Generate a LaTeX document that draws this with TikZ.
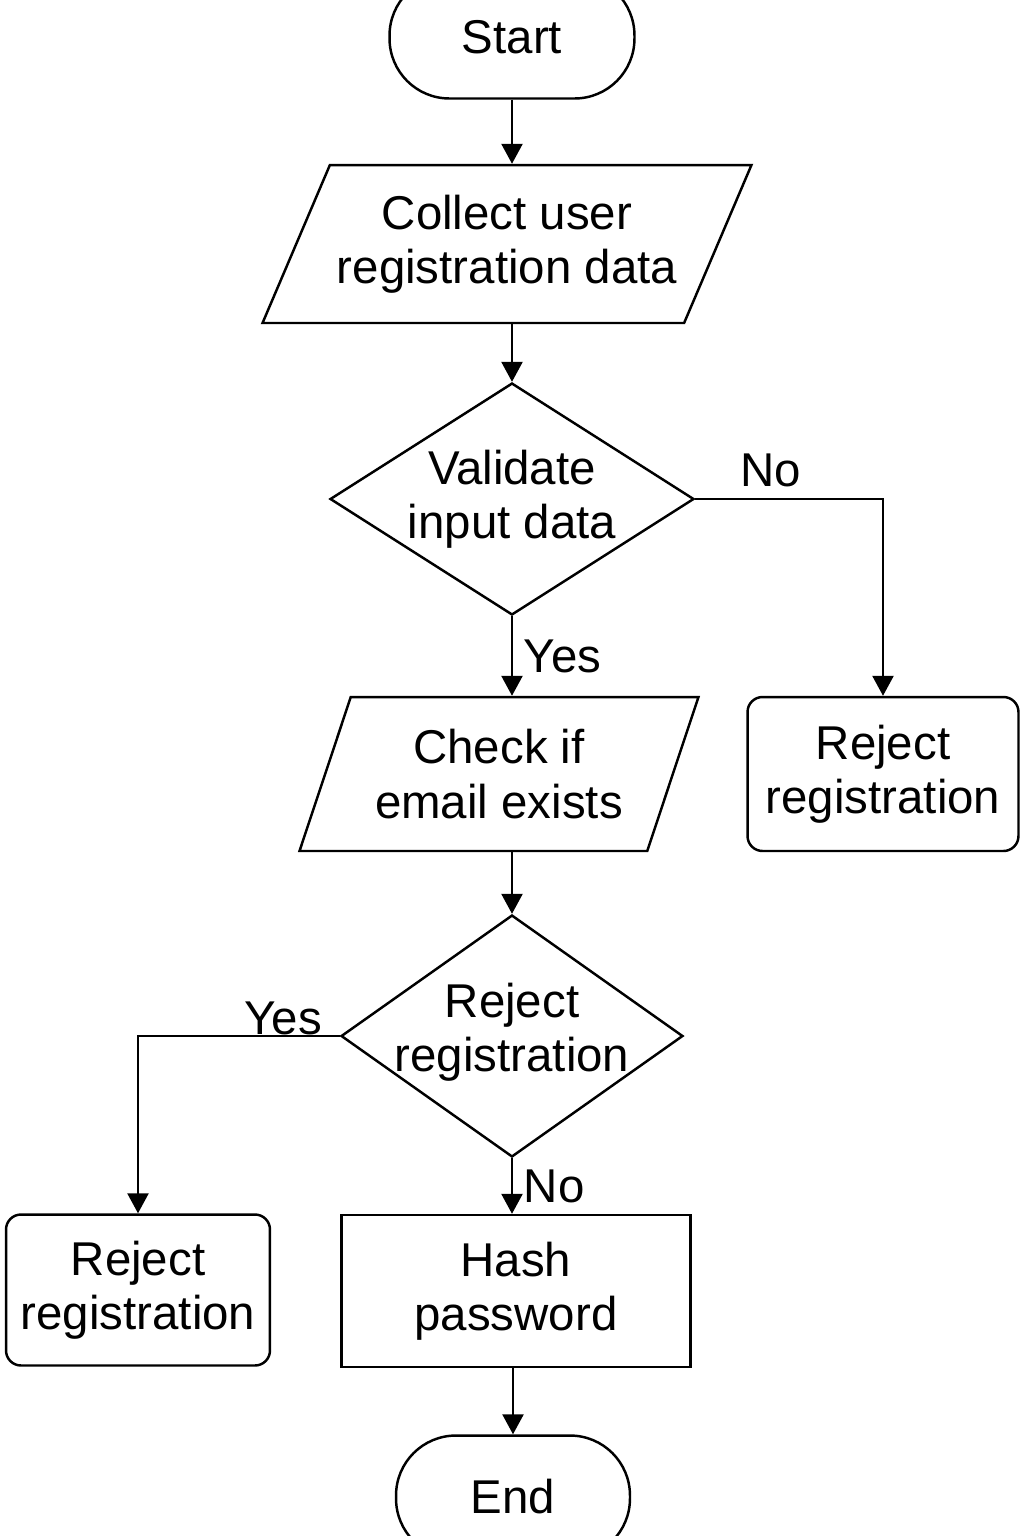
\documentclass[tikz,border=0pt]{standalone}
\usepackage{fontspec}
\setmainfont{Liberation Sans}
\usetikzlibrary{arrows.meta,positioning,shapes.geometric}

\begin{document}
\begin{tikzpicture}[
    x=0.02cm, y=-0.02cm,
    flow/.style={font=\fontsize{27}{31}\selectfont, align=center, line width=1.4pt},
    term/.style={flow, draw, rounded corners=1.2cm, minimum height=2.46cm, inner sep=0pt},
    io/.style={flow, draw, trapezium, trapezium stretches body, inner xsep=4pt, inner ysep=2pt},
    decision/.style={flow, draw, diamond, inner sep=0pt},
    proc/.style={flow, draw, rectangle, inner sep=2pt},
    reject/.style={proc, rounded corners=0.3cm},
    lbl/.style={font=\fontsize{27}{31}\selectfont, inner sep=6pt},
    arr/.style={-{Triangle[length=0.4cm, width=0.42cm]}, line width=1.4pt},
  ]
    \useasboundingbox (0,0) rectangle (1024,1536);
    \fill[white] (0,0) rectangle (1024,1536);
    \clip (0,0) rectangle (1024,1536);

    \node[term, minimum width=4.9cm] (start) at (512,37) {Start};
    \node[io, trapezium left angle=57.5, trapezium right angle=122.5,
          minimum width=9.68cm, minimum height=3.16cm] (in1) at (507,244)
          {Collect user\\registration data};
    \node[decision, minimum width=7.28cm, minimum height=4.64cm,
          label={[flow]center:Validate\\input data}] (dec1) at (512,499) {};
    \node[reject, minimum width=5.42cm, minimum height=3.08cm] (rej1) at (883,774)
          {Reject\\registration};
    \node[io, trapezium left angle=62, trapezium right angle=118,
          minimum width=7.98cm, minimum height=3.08cm] (in2) at (499,774)
          {Check if\\email exists};
    \node[decision, minimum width=6.84cm, minimum height=4.84cm,
          label={[flow, yshift=0.08cm]center:Reject\\registration}] (dec2) at (512,1036) {};
    \node[reject, minimum width=5.28cm, minimum height=3.02cm] (rej2) at (138,1290)
          {Reject\\registration};
    \node[proc, minimum width=6.98cm, minimum height=3.04cm] (hash) at (516,1291)
          {Hash\\password};
    \node[term, minimum width=4.68cm] (end) at (513,1497) {End};

    \draw[arr] (start) -- (start |- in1.north);
    \draw[arr] (in1.south -| dec1) -- (dec1.north);
    \draw[arr] (dec1.east) -| node[lbl, pos=0.2, above] {No} (rej1.north);
    \draw[arr] (dec1.south) -- node[lbl, right] {Yes} (dec1.south |- in2.north);
    \draw[arr] (in2.south -| dec2) -- (dec2.north);
    \draw[arr] (dec2.west) -| node[lbl, pos=0.14, above, inner sep=0pt] {Yes} (rej2.north);
    \draw[arr] (dec2.south) -- node[lbl, right] {No} (dec2.south |- hash.north);
    \draw[arr] (hash.south -| end) -- (end.north);
  \end{tikzpicture}
\end{document}
